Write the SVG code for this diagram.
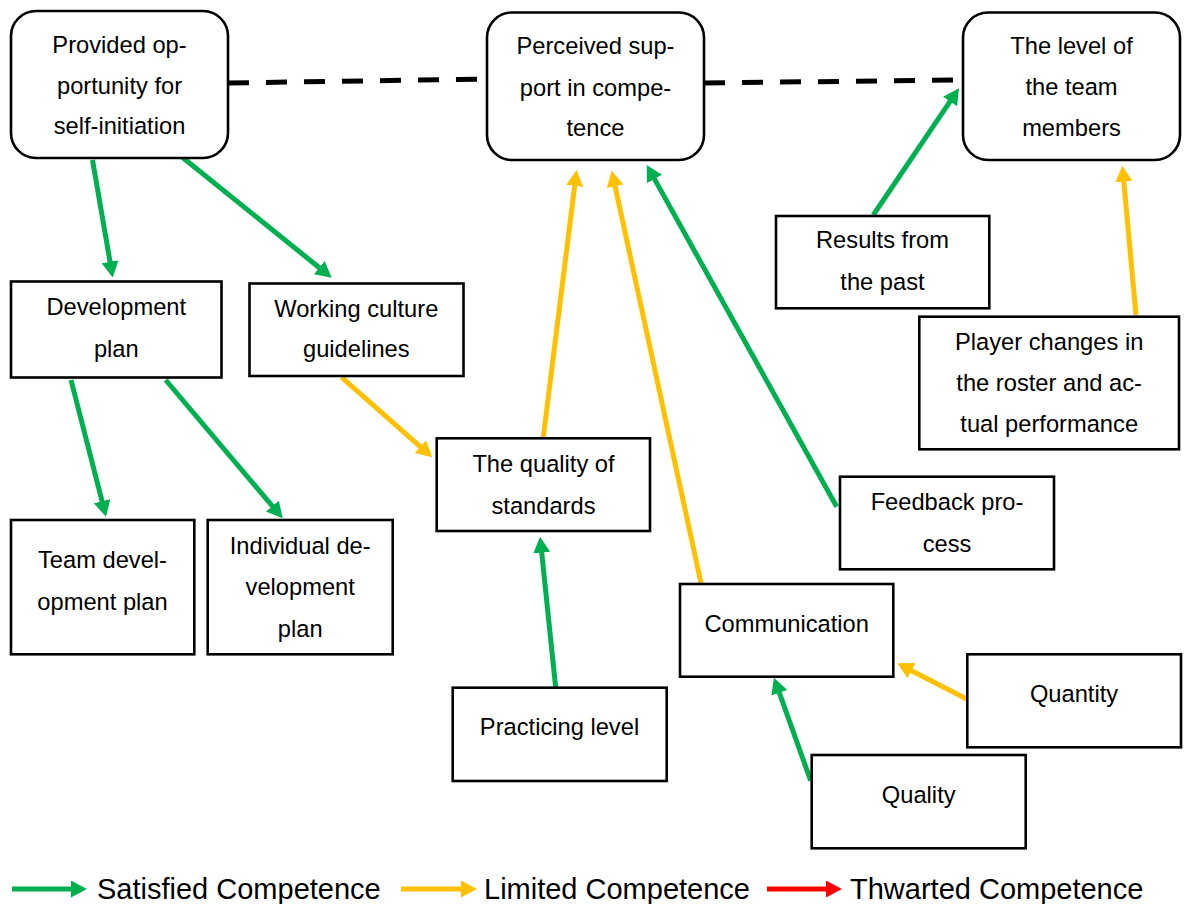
<svg xmlns="http://www.w3.org/2000/svg" width="1189" height="904" viewBox="0 0 1189 904">
<style>
.box{fill:#fff;stroke:#000;stroke-width:2.6}
.t{font-family:"Liberation Sans",Arial,sans-serif;font-size:23.7px;fill:#000;text-anchor:middle}
.lg{font-family:"Liberation Sans",Arial,sans-serif;font-size:29px;fill:#000}
.g{stroke:#00B050;stroke-width:5;fill:none;marker-end:url(#ag)}
.y{stroke:#FFC000;stroke-width:5;fill:none;marker-end:url(#ay)}
.r{stroke:#FF0000;stroke-width:5;fill:none;marker-end:url(#ar)}
.d{stroke:#000;stroke-width:5;fill:none;stroke-dasharray:21 17}
</style>
<defs>
<marker id="ag" markerUnits="userSpaceOnUse" markerWidth="18" markerHeight="18" refX="1" refY="8.5" orient="auto"><path d="M0,0 L16,8.5 L0,17 z" fill="#00B050"/></marker>
<marker id="ay" markerUnits="userSpaceOnUse" markerWidth="18" markerHeight="18" refX="1" refY="8.5" orient="auto"><path d="M0,0 L16,8.5 L0,17 z" fill="#FFC000"/></marker>
<marker id="ar" markerUnits="userSpaceOnUse" markerWidth="18" markerHeight="18" refX="1" refY="8.5" orient="auto"><path d="M0,0 L16,8.5 L0,17 z" fill="#FF0000"/></marker>
</defs>
<rect width="1189" height="904" fill="#fff"/>

<g id="connectors">
<path class="d" d="M228,83 L487,79"/>
<path class="d" d="M704,83 L956,80"/>
<path class="g" d="M92.5,160 L110.2,262.7"/>
<path class="g" d="M181.7,156.7 L320,268.3"/>
<path class="g" d="M71,380 L102.3,502.2"/>
<path class="g" d="M165.7,380 L273,506.9"/>
<path class="g" d="M555.7,687.7 L541.6,551.6"/>
<path class="g" d="M810.7,780.7 L779,691.8"/>
<path class="g" d="M836.7,506.7 L654,178.1"/>
<path class="g" d="M873.3,215 L950.6,100.7"/>
<path class="y" d="M341.7,377.3 L421.1,447.4"/>
<path class="y" d="M543.3,437 L574.8,184.9"/>
<path class="y" d="M701,583 L614.9,185.4"/>
<path class="y" d="M966.7,699 L910.6,670.2"/>
<path class="y" d="M1136,315 L1123.7,180.6"/>
</g>

<g id="n-provided">
<rect class="box" x="11" y="11" width="217" height="147" rx="25"/>
<text class="t" x="119.5" y="53">Provided op-</text>
<text class="t" x="119.5" y="93.5">portunity for</text>
<text class="t" x="119.5" y="134">self-initiation</text>
</g>
<g id="n-perceived">
<rect class="box" x="487" y="12.5" width="217" height="147.5" rx="25"/>
<text class="t" x="595.5" y="54.3">Perceived sup-</text>
<text class="t" x="595.5" y="95.5">port in compe-</text>
<text class="t" x="595.5" y="136">tence</text>
</g>
<g id="n-level">
<rect class="box" x="963" y="12.5" width="217" height="147.5" rx="25"/>
<text class="t" x="1071.5" y="54">The level of</text>
<text class="t" x="1071.5" y="95">the team</text>
<text class="t" x="1071.5" y="136">members</text>
</g>
<g id="n-devplan">
<rect class="box" x="11" y="281.5" width="210.5" height="96"/>
<text class="t" x="116.3" y="315">Development</text>
<text class="t" x="116.3" y="357">plan</text>
</g>
<g id="n-working">
<rect class="box" x="249.5" y="283.5" width="214" height="92.5"/>
<text class="t" x="356.3" y="316.7">Working culture</text>
<text class="t" x="356.3" y="357.3">guidelines</text>
</g>
<g id="n-team">
<rect class="box" x="11" y="520" width="183.3" height="134.3"/>
<text class="t" x="102.5" y="568.3">Team devel-</text>
<text class="t" x="102.5" y="610">opment plan</text>
</g>
<g id="n-individual">
<rect class="box" x="207.7" y="520" width="185" height="134.3"/>
<text class="t" x="300.2" y="554">Individual de-</text>
<text class="t" x="300.2" y="595">velopment</text>
<text class="t" x="300.2" y="636.5">plan</text>
</g>
<g id="n-standards">
<rect class="box" x="436.7" y="438.3" width="213.3" height="92.7"/>
<text class="t" x="543.5" y="471.7">The quality of</text>
<text class="t" x="543.5" y="514">standards</text>
</g>
<g id="n-practicing">
<rect class="box" x="452.7" y="687.7" width="214" height="93.3"/>
<text class="t" x="559.5" y="735">Practicing level</text>
</g>
<g id="n-communication">
<rect class="box" x="680" y="584" width="213.3" height="92.7"/>
<text class="t" x="786.7" y="631.7">Communication</text>
</g>
<g id="n-feedback">
<rect class="box" x="840" y="476.7" width="214" height="92.6"/>
<text class="t" x="947" y="510">Feedback pro-</text>
<text class="t" x="947" y="551.7">cess</text>
</g>
<g id="n-quantity">
<rect class="box" x="967.3" y="654.3" width="213.7" height="93"/>
<text class="t" x="1074" y="701.7">Quantity</text>
</g>
<g id="n-quality">
<rect class="box" x="811.7" y="755" width="214" height="93.3"/>
<text class="t" x="918.7" y="802.7">Quality</text>
</g>
<g id="n-results">
<rect class="box" x="776" y="216" width="213.3" height="92.3"/>
<text class="t" x="882.5" y="248.3">Results from</text>
<text class="t" x="882.5" y="290">the past</text>
</g>
<g id="n-player">
<rect class="box" x="919.3" y="316.7" width="259.7" height="132.6"/>
<text class="t" x="1049.2" y="350">Player changes in</text>
<text class="t" x="1049.2" y="390.7">the roster and ac-</text>
<text class="t" x="1049.2" y="432.3">tual performance</text>
</g>

<g id="legend">
<path class="g" d="M12,889 L72,889"/>
<text class="lg" x="97" y="899">Satisfied Competence</text>
<path class="y" d="M401,889 L462,889"/>
<text class="lg" x="484" y="899">Limited Competence</text>
<path class="r" d="M767,889 L827,889"/>
<text class="lg" x="850" y="899">Thwarted Competence</text>
</g>
</svg>
